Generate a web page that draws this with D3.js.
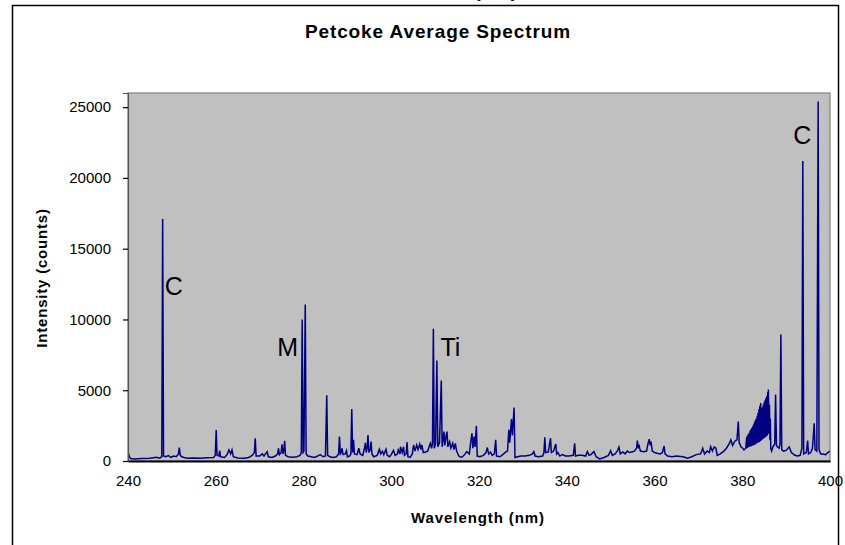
<!DOCTYPE html>
<html>
<head>
<meta charset="utf-8">
<script src="https://cdn.jsdelivr.net/npm/d3@7"></script>
<style>
  html, body { margin: 0; padding: 0; background: #ffffff; }
  svg { display: block; font-family: "Liberation Sans", Arial, sans-serif; }
</style>
</head>
<body>
<svg id="chart" width="845" height="545"></svg>
<script>
// ---- data ----
const chartTitle = "Petcoke Average Spectrum";
const xLabel = "Wavelength (nm)";
const yLabel = "Intensity (counts)";
const xTicks = [240, 260, 280, 300, 320, 340, 360, 380, 400];
const yTicks = [0, 5000, 10000, 15000, 20000, 25000];
const annotations = [
  { text: "C", w: 248.4, v: 11700 },
  { text: "M", w: 274.0, v: 7400 },
  { text: "Ti", w: 311.2, v: 7400 },
  { text: "C", w: 391.6, v: 22400 }
];
// wavelength (nm), intensity (counts)
const spectrum = [
  [240.0,650],[240.3,300],[240.6,180],[241.5,150],[243.0,170],[245.0,200],[246.5,260],[247.2,200],[247.7,300],
  [247.9,17100],[248.1,350],[248.6,300],[249.2,380],[249.8,250],[250.4,350],[251.0,300],[251.5,500],[251.7,940],
  [251.9,400],[252.3,300],[252.8,250],[253.5,200],[255.0,220],[256.5,200],[258.0,230],[259.5,250],[259.9,400],
  [260.1,2180],[260.3,400],[260.7,350],[260.9,730],[261.1,300],[262.0,250],[262.6,450],[263.0,780],[263.4,500],
  [263.7,780],[264.0,300],[265.0,220],[266.5,200],[267.5,250],[268.3,400],[268.8,600],[269.0,1610],[269.2,350],
  [270.0,350],[270.6,500],[271.0,350],[271.7,660],[272.0,300],[272.8,250],[273.6,350],[274.1,500],[274.3,900],
  [274.5,450],[274.9,600],[275.1,1180],[275.3,500],[275.5,700],[275.7,1420],[275.9,400],[276.5,300],[277.5,260],
  [278.5,300],[279.2,400],[279.5,600],[279.7,10000],[279.9,600],[280.1,700],[280.4,11050],[280.6,500],[281.0,350],
  [281.8,300],[282.5,250],[283.2,350],[283.8,450],[284.5,300],[285.0,350],[285.3,4650],[285.5,400],[286.0,300],
  [286.8,250],[287.5,300],[288.0,500],[288.2,1720],[288.4,500],[288.6,600],[288.8,900],[289.0,450],[289.5,500],
  [289.8,730],[290.0,300],[290.5,350],[290.8,500],[291.0,3670],[291.2,600],[291.4,1490],[291.6,500],[292.2,450],
  [292.6,900],[292.9,500],[293.5,400],[293.9,900],[294.1,1280],[294.3,600],[294.5,900],[294.7,1840],[294.9,600],
  [295.2,800],[295.4,1370],[295.6,500],[296.0,300],[296.8,400],[297.3,830],[297.6,500],[298.0,700],[298.3,450],
  [298.8,830],[299.1,400],[299.6,300],[300.0,450],[300.5,750],[300.9,400],[301.4,500],[301.6,780],[302.0,500],
  [302.1,1010],[302.5,600],[302.8,1010],[303.0,400],[303.4,500],[303.6,1330],[303.8,300],[304.3,250],[304.8,500],
  [305.1,1130],[305.4,700],[305.8,1130],[306.1,800],[306.5,1200],[306.8,800],[307.0,1130],[307.3,600],[307.8,640],
  [308.3,700],[308.9,1250],[309.2,900],[309.4,1300],[309.6,9340],[309.8,900],[310.1,1200],[310.4,7100],[310.6,1000],
  [311.0,1300],[311.4,5690],[311.6,1000],[311.8,1500],[312.0,2080],[312.2,1100],[312.5,1800],[312.7,2080],[312.9,1000],
  [313.3,1370],[313.6,900],[314.0,1250],[314.3,800],[314.6,1250],[314.9,700],[315.4,350],[316.0,250],[316.6,400],
  [317.2,660],[317.8,500],[318.1,1300],[318.4,1960],[318.6,900],[318.9,1720],[319.1,1000],[319.4,2480],[319.6,350],
  [320.2,300],[321.0,400],[321.6,600],[321.9,950],[322.2,500],[322.6,640],[323.0,400],[323.5,500],[323.8,1490],
  [324.0,350],[324.8,300],[325.6,500],[326.2,660],[326.5,700],[326.8,2200],[327.0,1300],[327.4,2960],[327.6,1800],
  [328.0,3780],[328.2,250],[328.8,300],[329.5,350],[330.5,350],[331.5,400],[332.2,500],[332.5,660],[332.8,350],
  [333.5,300],[334.5,350],[334.8,600],[335.0,1680],[335.2,600],[335.8,640],[336.3,1610],[336.5,600],[337.0,700],
  [337.5,1200],[337.7,500],[338.0,600],[338.4,350],[339.0,450],[339.7,350],[340.5,350],[341.5,400],[341.8,1250],
  [342.0,350],[342.7,400],[343.5,400],[344.3,350],[344.7,660],[345.1,400],[345.5,450],[346.2,660],[346.7,300],
  [347.5,150],[348.5,250],[349.5,400],[350.0,730],[350.4,400],[351.0,500],[351.5,700],[351.9,970],[352.2,500],
  [352.8,640],[353.3,500],[353.8,700],[354.3,600],[354.8,640],[355.4,700],[355.9,900],[356.1,1440],[356.3,900],
  [356.5,1060],[356.8,700],[357.5,650],[358.2,700],[358.5,1200],[358.8,1540],[359.0,1100],[359.2,1370],[359.5,700],
  [360.0,600],[360.6,550],[361.3,500],[361.8,600],[362.2,1060],[362.4,500],[363.0,350],[364.0,300],[365.0,350],
  [366.5,300],[367.5,200],[368.5,300],[369.5,450],[370.5,500],[371.0,900],[371.4,500],[372.0,700],[372.5,600],
  [372.8,1010],[373.2,700],[373.6,1000],[374.0,900],[374.3,400],[375.0,500],[375.8,700],[376.4,900],[377.0,1200],
  [377.4,1490],[377.8,1100],[378.3,1400],[378.8,1500],[379.1,2790],[379.3,1300],[379.7,1000],[380.1,900],[380.4,780],
  [380.8,900],[381.0,1700],[381.1,900],[381.2,1800],[381.3,950],[381.4,1900],[381.5,1000],[381.6,2000],[381.7,1000],
  [381.8,2150],[381.9,1050],[382.0,2250],[382.1,1050],[382.2,2350],[382.3,1100],[382.4,2450],[382.5,1100],[382.6,2600],
  [382.7,1150],[382.8,2750],[382.9,1150],[383.0,2900],[383.1,1200],[383.2,3000],[383.3,1250],[383.4,3200],[383.5,1300],
  [383.6,3400],[383.7,1300],[383.8,3650],[383.9,1350],[384.0,3900],[384.1,1400],[384.2,4100],[384.3,1450],[384.4,3700],
  [384.5,1500],[384.6,3800],[384.7,1550],[384.8,4000],[384.9,1600],[385.0,4150],[385.1,1650],[385.2,4300],[385.3,1700],
  [385.4,4450],[385.5,1750],[385.6,4600],[385.7,1800],[385.8,4850],[385.9,1900],[385.95,5050],[386.1,2000],[386.2,4000],
  [386.3,1500],[386.4,3000],[386.5,900],[386.7,700],[387.0,1000],[387.4,1200],[387.6,4700],[387.8,1100],[388.0,1000],
  [388.4,900],[388.6,1200],[388.8,8930],[389.0,800],[389.4,700],[390.0,750],[390.7,1000],[391.2,600],[392.0,400],
  [392.6,350],[393.2,400],[393.6,900],[393.8,21200],[394.0,500],[394.6,600],[394.9,1440],[395.1,500],[395.6,600],
  [396.0,900],[396.4,2670],[396.6,800],[397.0,700],[397.3,25400],[397.5,800],[397.9,500],[398.4,500],[399.0,450],
  [399.5,600],[400.0,700]
];

// ---- layout ----
const svg = d3.select("#chart");
const plot = { left: 128, right: 830, top: 93, bottom: 461 };

const x = d3.scaleLinear().domain([240, 400]).range([plot.left, plot.right]);
const y = d3.scaleLinear().domain([0, 26000]).range([plot.bottom, plot.top]);

// outer chart frame
svg.append("rect")
  .attr("x", 12.5).attr("y", 5.5).attr("width", 826).attr("height", 560)
  .attr("fill", "#ffffff").attr("stroke", "#000000").attr("stroke-width", 1.5);

// text above the frame, cut off by the top edge as in the reference
svg.append("text")
  .attr("x", 474).attr("y", -3)
  .attr("font-size", 20).attr("font-weight", "bold").attr("fill", "#000")
  .text("(nm)");

// title
svg.append("text")
  .attr("x", 438).attr("y", 38)
  .attr("text-anchor", "middle")
  .attr("font-size", 19).attr("font-weight", "bold")
  .attr("letter-spacing", "0.9px")
  .text(chartTitle);

// plot area
svg.append("rect")
  .attr("x", plot.left).attr("y", plot.top)
  .attr("width", plot.right - plot.left).attr("height", plot.bottom - plot.top)
  .attr("fill", "#c0c0c0").attr("stroke", "#808080").attr("stroke-width", 1.2);

svg.append("clipPath").attr("id", "clip")
  .append("rect")
  .attr("x", plot.left).attr("y", plot.top - 2)
  .attr("width", plot.right - plot.left).attr("height", plot.bottom - plot.top + 2);

// spectrum line
const line = d3.line().x(d => x(d[0])).y(d => y(d[1]));
svg.append("path")
  .datum(spectrum)
  .attr("clip-path", "url(#clip)")
  .attr("fill", "none")
  .attr("stroke", "#000080")
  .attr("stroke-width", 1.5)
  .attr("stroke-linejoin", "miter")
  .attr("d", line);

// y axis
const yAxis = d3.axisLeft(y).tickValues(yTicks).tickSize(5).tickPadding(12).tickFormat(d3.format("d"));
const gy = svg.append("g").attr("transform", `translate(${plot.left},0)`).call(yAxis);
gy.select(".domain").attr("stroke", "#555").attr("stroke-width", 1.2);
gy.selectAll(".tick line").attr("stroke", "#000").attr("stroke-width", 1.2);
gy.selectAll(".tick text").attr("font-size", 15).attr("font-family", "Liberation Sans, Arial, sans-serif").attr("fill", "#000");

// x axis
const xAxis = d3.axisBottom(x).tickValues(xTicks).tickSize(0).tickPadding(14).tickFormat(d3.format("d"));
const gx = svg.append("g").attr("transform", `translate(0,${plot.bottom})`).call(xAxis);
gx.select(".domain").attr("stroke", "#000").attr("stroke-width", 1.8);
gx.selectAll(".tick text").attr("font-size", 15).attr("font-family", "Liberation Sans, Arial, sans-serif").attr("fill", "#000");

// axis titles
svg.append("text")
  .attr("x", 478).attr("y", 523)
  .attr("text-anchor", "middle")
  .attr("font-size", 15).attr("font-weight", "bold")
  .attr("letter-spacing", "0.9px")
  .text(xLabel);

svg.append("text")
  .attr("transform", "translate(47,278) rotate(-90)")
  .attr("text-anchor", "middle")
  .attr("font-size", 15).attr("font-weight", "bold")
  .attr("letter-spacing", "0.8px")
  .text(yLabel);

// element annotations
svg.append("g").selectAll("text")
  .data(annotations)
  .join("text")
  .attr("x", d => x(d.w)).attr("y", d => y(d.v))
  .attr("font-size", 25).attr("fill", "#000")
  .text(d => d.text);
</script>
</body>
</html>
